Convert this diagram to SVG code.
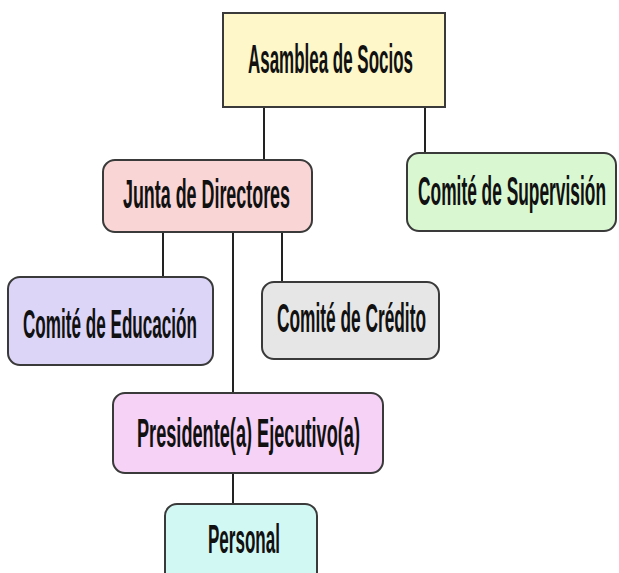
<svg xmlns="http://www.w3.org/2000/svg" width="619" height="573" viewBox="0 0 619 573">
<style>
.box{stroke:#3a3a3a;stroke-width:2}
.lbl{font-family:"Liberation Sans",Arial,sans-serif;font-size:40px;font-weight:bold;fill:#111;text-anchor:start}
.con{stroke:#222;stroke-width:2;fill:none}
</style>
<rect width="619" height="573" fill="#ffffff"/>
<g id="connectors">
<path class="con" d="M264 107 V160"/>
<path class="con" d="M425 107 V153"/>
<path class="con" d="M163 232 V277"/>
<path class="con" d="M282 232 V282"/>
<path class="con" d="M233 232 V393"/>
<path class="con" d="M233 473 V504"/>
</g>
<g id="asamblea">
<rect class="box" x="223" y="13" width="222" height="94" fill="#fdf7c9"/>
<text class="lbl" x="248" y="73" textLength="165" lengthAdjust="spacingAndGlyphs">Asamblea de Socios</text>
</g>
<g id="junta">
<rect class="box" x="103" y="160" width="209" height="72" rx="12" fill="#f9d5d5"/>
<text class="lbl" x="123" y="208" textLength="167" lengthAdjust="spacingAndGlyphs">Junta de Directores</text>
</g>
<g id="supervision">
<rect class="box" x="407" y="153" width="209" height="78" rx="12" fill="#d9f8d2"/>
<text class="lbl" x="418" y="205" textLength="188" lengthAdjust="spacingAndGlyphs">Comité de Supervisión</text>
</g>
<g id="educacion">
<rect class="box" x="8" y="277" width="205" height="88" rx="12" fill="#dcd5f7"/>
<text class="lbl" x="23" y="338" textLength="174" lengthAdjust="spacingAndGlyphs">Comité de Educación</text>
</g>
<g id="credito">
<rect class="box" x="262" y="282" width="177" height="77" rx="12" fill="#e6e6e6"/>
<text class="lbl" x="277" y="332" textLength="149" lengthAdjust="spacingAndGlyphs">Comité de Crédito</text>
</g>
<g id="presidente">
<rect class="box" x="113" y="393" width="270" height="80" rx="12" fill="#f6d2f6"/>
<text class="lbl" x="137" y="447" textLength="223" lengthAdjust="spacingAndGlyphs">Presidente(a) Ejecutivo(a)</text>
</g>
<g id="personal">
<rect class="box" x="165" y="504" width="152" height="80" rx="12" fill="#d2f8f4"/>
<text class="lbl" x="208" y="553" textLength="72" lengthAdjust="spacingAndGlyphs">Personal</text>
</g>
</svg>
